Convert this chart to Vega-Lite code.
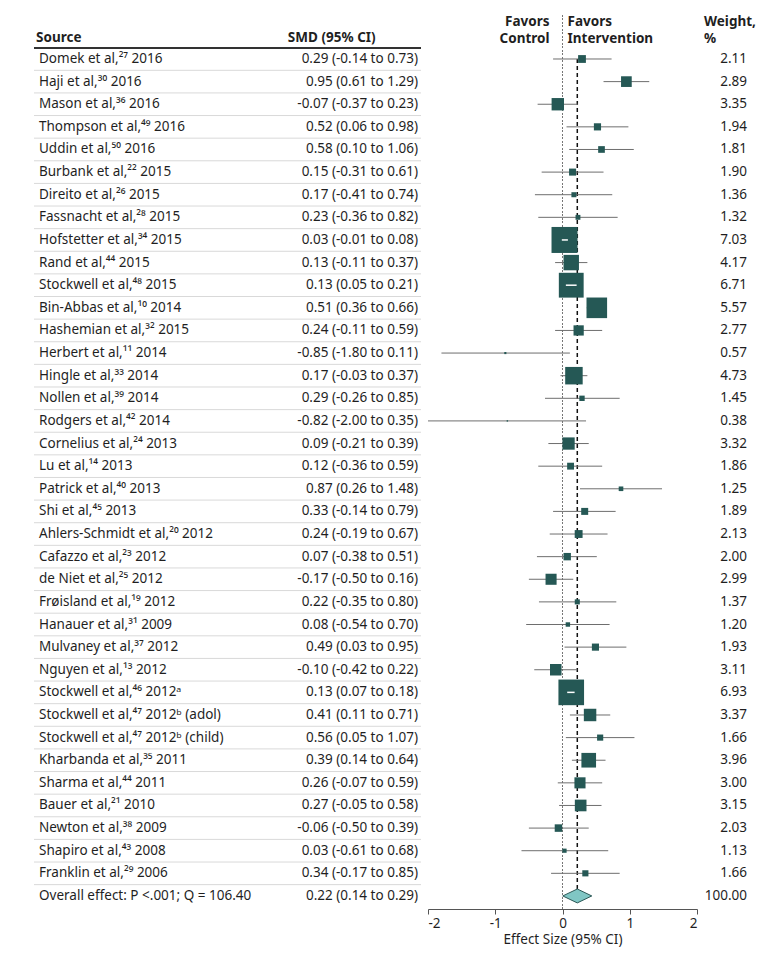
{
  "$schema": "https://vega.github.io/schema/vega-lite/v6.json",
  "padding": {"left": 33, "top": 14, "right": 0, "bottom": 6},
  "autosize": {"type": "pad"},
  "bounds": "flush",
  "spacing": 7,
  "config": {
    "view": {"stroke": null},
    "font": "Noto Sans",
    "text": {"font": "Noto Sans", "fontSize": 13.5, "color": "#1f1f1f"}
  },
  "datasets": {
    "rows": [
      {"row": 1, "kind": "study", "source": "Domek et al,²⁷ 2016", "smd": "0.29 (-0.14 to 0.73)", "est": 0.29, "lo": -0.14, "hi": 0.73, "weight": 2.11},
      {"row": 2, "kind": "study", "source": "Haji et al,³⁰ 2016", "smd": "0.95 (0.61 to 1.29)", "est": 0.95, "lo": 0.61, "hi": 1.29, "weight": 2.89},
      {"row": 3, "kind": "study", "source": "Mason et al,³⁶ 2016", "smd": "-0.07 (-0.37 to 0.23)", "est": -0.07, "lo": -0.37, "hi": 0.23, "weight": 3.35},
      {"row": 4, "kind": "study", "source": "Thompson et al,⁴⁹ 2016", "smd": "0.52 (0.06 to 0.98)", "est": 0.52, "lo": 0.06, "hi": 0.98, "weight": 1.94},
      {"row": 5, "kind": "study", "source": "Uddin et al,⁵⁰ 2016", "smd": "0.58 (0.10 to 1.06)", "est": 0.58, "lo": 0.10, "hi": 1.06, "weight": 1.81},
      {"row": 6, "kind": "study", "source": "Burbank et al,²² 2015", "smd": "0.15 (-0.31 to 0.61)", "est": 0.15, "lo": -0.31, "hi": 0.61, "weight": 1.90},
      {"row": 7, "kind": "study", "source": "Direito et al,²⁶  2015", "smd": "0.17 (-0.41 to 0.74)", "est": 0.17, "lo": -0.41, "hi": 0.74, "weight": 1.36},
      {"row": 8, "kind": "study", "source": "Fassnacht et al,²⁸ 2015", "smd": "0.23 (-0.36 to 0.82)", "est": 0.23, "lo": -0.36, "hi": 0.82, "weight": 1.32},
      {"row": 9, "kind": "study", "source": "Hofstetter et al,³⁴ 2015", "smd": "0.03 (-0.01 to 0.08)", "est": 0.03, "lo": -0.01, "hi": 0.08, "weight": 7.03},
      {"row": 10, "kind": "study", "source": "Rand et al,⁴⁴ 2015", "smd": "0.13 (-0.11 to 0.37)", "est": 0.13, "lo": -0.11, "hi": 0.37, "weight": 4.17},
      {"row": 11, "kind": "study", "source": "Stockwell et al,⁴⁸ 2015", "smd": "0.13 (0.05 to 0.21)", "est": 0.13, "lo": 0.05, "hi": 0.21, "weight": 6.71},
      {"row": 12, "kind": "study", "source": "Bin-Abbas et al,¹⁰  2014", "smd": "0.51 (0.36 to 0.66)", "est": 0.51, "lo": 0.36, "hi": 0.66, "weight": 5.57},
      {"row": 13, "kind": "study", "source": "Hashemian et al,³² 2015", "smd": "0.24 (-0.11 to 0.59)", "est": 0.24, "lo": -0.11, "hi": 0.59, "weight": 2.77},
      {"row": 14, "kind": "study", "source": "Herbert et al,¹¹ 2014", "smd": "-0.85 (-1.80 to 0.11)", "est": -0.85, "lo": -1.80, "hi": 0.11, "weight": 0.57},
      {"row": 15, "kind": "study", "source": "Hingle et al,³³ 2014", "smd": "0.17 (-0.03 to 0.37)", "est": 0.17, "lo": -0.03, "hi": 0.37, "weight": 4.73},
      {"row": 16, "kind": "study", "source": "Nollen et al,³⁹ 2014", "smd": "0.29 (-0.26 to 0.85)", "est": 0.29, "lo": -0.26, "hi": 0.85, "weight": 1.45},
      {"row": 17, "kind": "study", "source": "Rodgers et al,⁴² 2014", "smd": "-0.82 (-2.00 to 0.35)", "est": -0.82, "lo": -2.00, "hi": 0.35, "weight": 0.38},
      {"row": 18, "kind": "study", "source": "Cornelius et al,²⁴ 2013", "smd": "0.09 (-0.21 to 0.39)", "est": 0.09, "lo": -0.21, "hi": 0.39, "weight": 3.32},
      {"row": 19, "kind": "study", "source": "Lu et al,¹⁴ 2013", "smd": "0.12 (-0.36 to 0.59)", "est": 0.12, "lo": -0.36, "hi": 0.59, "weight": 1.86},
      {"row": 20, "kind": "study", "source": "Patrick et al,⁴⁰ 2013", "smd": "0.87 (0.26 to 1.48)", "est": 0.87, "lo": 0.26, "hi": 1.48, "weight": 1.25},
      {"row": 21, "kind": "study", "source": "Shi et al,⁴⁵ 2013", "smd": "0.33 (-0.14 to 0.79)", "est": 0.33, "lo": -0.14, "hi": 0.79, "weight": 1.89},
      {"row": 22, "kind": "study", "source": "Ahlers-Schmidt et al,²⁰ 2012", "smd": "0.24 (-0.19 to 0.67)", "est": 0.24, "lo": -0.19, "hi": 0.67, "weight": 2.13},
      {"row": 23, "kind": "study", "source": "Cafazzo et al,²³ 2012", "smd": "0.07 (-0.38 to 0.51)", "est": 0.07, "lo": -0.38, "hi": 0.51, "weight": 2.00},
      {"row": 24, "kind": "study", "source": "de Niet et al,²⁵ 2012", "smd": "-0.17 (-0.50 to 0.16)", "est": -0.17, "lo": -0.50, "hi": 0.16, "weight": 2.99},
      {"row": 25, "kind": "study", "source": "Frøisland et al,¹⁹ 2012", "smd": "0.22 (-0.35 to 0.80)", "est": 0.22, "lo": -0.35, "hi": 0.80, "weight": 1.37},
      {"row": 26, "kind": "study", "source": "Hanauer et al,³¹ 2009", "smd": "0.08 (-0.54 to 0.70)", "est": 0.08, "lo": -0.54, "hi": 0.70, "weight": 1.20},
      {"row": 27, "kind": "study", "source": "Mulvaney et al,³⁷ 2012", "smd": "0.49 (0.03 to 0.95)", "est": 0.49, "lo": 0.03, "hi": 0.95, "weight": 1.93},
      {"row": 28, "kind": "study", "source": "Nguyen et al,¹³ 2012", "smd": "-0.10 (-0.42 to 0.22)", "est": -0.10, "lo": -0.42, "hi": 0.22, "weight": 3.11},
      {"row": 29, "kind": "study", "source": "Stockwell et al,⁴⁶ 2012ᵃ", "smd": "0.13 (0.07 to 0.18)", "est": 0.13, "lo": 0.07, "hi": 0.18, "weight": 6.93},
      {"row": 30, "kind": "study", "source": "Stockwell et al,⁴⁷ 2012ᵇ (adol)", "smd": "0.41 (0.11 to 0.71)", "est": 0.41, "lo": 0.11, "hi": 0.71, "weight": 3.37},
      {"row": 31, "kind": "study", "source": "Stockwell et al,⁴⁷ 2012ᵇ (child)", "smd": "0.56 (0.05 to 1.07)", "est": 0.56, "lo": 0.05, "hi": 1.07, "weight": 1.66},
      {"row": 32, "kind": "study", "source": "Kharbanda et al,³⁵ 2011", "smd": "0.39 (0.14 to 0.64)", "est": 0.39, "lo": 0.14, "hi": 0.64, "weight": 3.96},
      {"row": 33, "kind": "study", "source": "Sharma et al,⁴⁴ 2011", "smd": "0.26 (-0.07 to 0.59)", "est": 0.26, "lo": -0.07, "hi": 0.59, "weight": 3.00},
      {"row": 34, "kind": "study", "source": "Bauer et al,²¹ 2010", "smd": "0.27 (-0.05 to 0.58)", "est": 0.27, "lo": -0.05, "hi": 0.58, "weight": 3.15},
      {"row": 35, "kind": "study", "source": "Newton et al,³⁸ 2009", "smd": "-0.06 (-0.50 to 0.39)", "est": -0.06, "lo": -0.50, "hi": 0.39, "weight": 2.03},
      {"row": 36, "kind": "study", "source": "Shapiro et al,⁴³ 2008", "smd": "0.03 (-0.61 to 0.68)", "est": 0.03, "lo": -0.61, "hi": 0.68, "weight": 1.13},
      {"row": 37, "kind": "study", "source": "Franklin et al,²⁹ 2006", "smd": "0.34 (-0.17 to 0.85)", "est": 0.34, "lo": -0.17, "hi": 0.85, "weight": 1.66},
      {"row": 38, "kind": "overall", "source": "Overall effect: P <.001; Q = 106.40", "smd": "0.22 (0.14 to 0.29)", "est": 0.22, "lo": 0.14, "hi": 0.29, "weight": 100.00}
    ]
  },
  "hconcat": [
    {
      "width": 387,
      "height": 894,
      "data": {"name": "rows"},
      "layer": [
        {
          "transform": [{"filter": "datum.kind == 'study'"}],
          "mark": {"type": "rule", "color": "#d9d9d9", "strokeWidth": 1, "yOffset": 11.31},
          "encoding": {
            "y": {"field": "row", "type": "quantitative", "scale": {"domain": [-0.945, 38.577], "reverse": true, "nice": false, "zero": false}, "axis": null}
          }
        },
        {
          "mark": {"type": "rule", "color": "#333333", "strokeWidth": 1.5},
          "encoding": {
            "y": {"datum": 0.5, "type": "quantitative"}
          }
        },
        {
          "transform": [{"filter": "datum.row == 1"}],
          "mark": {"type": "text", "text": "Source", "align": "left", "baseline": "middle", "fontWeight": "bold", "fontSize": 13.5, "dx": 2},
          "encoding": {
            "x": {"datum": 0, "type": "quantitative", "scale": {"domain": [0, 1], "nice": false, "zero": false}, "axis": null},
            "y": {"datum": 0.072, "type": "quantitative"}
          }
        },
        {
          "transform": [{"filter": "datum.row == 1"}],
          "mark": {"type": "text", "text": "SMD (95% CI)", "align": "left", "baseline": "middle", "fontWeight": "bold", "fontSize": 13.5},
          "encoding": {
            "x": {"datum": 0.656, "type": "quantitative"},
            "y": {"datum": 0.072, "type": "quantitative"}
          }
        },
        {
          "mark": {"type": "text", "align": "left", "baseline": "middle", "dx": 5},
          "encoding": {
            "x": {"datum": 0, "type": "quantitative"},
            "y": {"field": "row", "type": "quantitative"},
            "text": {"field": "source"}
          }
        },
        {
          "mark": {"type": "text", "align": "right", "baseline": "middle", "dx": -3},
          "encoding": {
            "x": {"datum": 1, "type": "quantitative"},
            "y": {"field": "row", "type": "quantitative"},
            "text": {"field": "smd"}
          }
        }
      ]
    },
    {
      "width": 269,
      "height": 894,
      "data": {"name": "rows"},
      "layer": [
        {
          "mark": {"type": "rule", "color": "#777777", "strokeWidth": 1, "strokeDash": [1.5, 2]},
          "encoding": {
            "x": {"datum": 0, "type": "quantitative", "scale": {"domain": [-2, 2], "nice": false, "zero": false},
              "axis": {"values": [-2, -1, 0, 1, 2], "labelExpr": "datum.value + ''", "title": "Effect Size (95% CI)", "grid": false,
                "labelFont": "Noto Sans", "labelFontSize": 13.5, "labelColor": "#1f1f1f", "labelPadding": 2,
                "titleFont": "Noto Sans", "titleFontSize": 13.5, "titleFontWeight": "normal", "titleColor": "#1f1f1f", "titlePadding": 3,
                "domainColor": "#555555", "tickColor": "#555555", "tickSize": 5}}
          }
        },
        {
          "transform": [{"filter": "datum.kind == 'overall'"}],
          "mark": {"type": "rule", "color": "#111111", "strokeWidth": 1.5, "strokeDash": [4, 3]},
          "encoding": {
            "x": {"field": "est", "type": "quantitative"},
            "y": {"datum": 1, "type": "quantitative", "scale": {"domain": [-0.945, 38.577], "reverse": true, "nice": false, "zero": false}, "axis": null},
            "y2": {"datum": 38}
          }
        },
        {
          "transform": [{"filter": "datum.kind == 'study'"}],
          "mark": {"type": "rule", "color": "#6e6e6e", "strokeWidth": 1},
          "encoding": {
            "x": {"field": "lo", "type": "quantitative"},
            "x2": {"field": "hi"},
            "y": {"field": "row", "type": "quantitative"}
          }
        },
        {
          "transform": [{"filter": "datum.kind == 'study'"}],
          "mark": {"type": "point", "shape": "square", "filled": true, "opacity": 1, "color": "#255855"},
          "encoding": {
            "x": {"field": "est", "type": "quantitative"},
            "y": {"field": "row", "type": "quantitative"},
            "size": {"field": "weight", "type": "quantitative", "scale": {"type": "pow", "exponent": 2, "domain": [0, 7.03], "range": [0, 676]}, "legend": null}
          }
        },
        {
          "transform": [{"filter": "datum.kind == 'study' && datum.weight > 6"}],
          "mark": {"type": "rule", "color": "#ffffff", "strokeWidth": 1.5},
          "encoding": {
            "x": {"field": "lo", "type": "quantitative"},
            "x2": {"field": "hi"},
            "y": {"field": "row", "type": "quantitative"}
          }
        },
        {
          "transform": [{"filter": "datum.kind == 'overall'"}],
          "mark": {"type": "point", "shape": "M-1,0L0,-0.48L1,0L0,0.48Z", "size": 841, "filled": true, "fill": "#80c6c4", "stroke": "#2c5856", "strokeWidth": 1, "opacity": 1},
          "encoding": {
            "x": {"field": "est", "type": "quantitative"},
            "y": {"field": "row", "type": "quantitative"}
          }
        },
        {
          "transform": [{"filter": "datum.row == 1"}],
          "mark": {"type": "text", "text": ["Favors", "Control"], "align": "right", "baseline": "middle", "fontWeight": "bold", "fontSize": 13.5, "lineHeight": 17, "dx": -13},
          "encoding": {
            "x": {"datum": 0, "type": "quantitative"},
            "y": {"datum": -0.64, "type": "quantitative"}
          }
        },
        {
          "transform": [{"filter": "datum.row == 1"}],
          "mark": {"type": "text", "text": ["Favors", "Intervention"], "align": "left", "baseline": "middle", "fontWeight": "bold", "fontSize": 13.5, "lineHeight": 17, "dx": 5},
          "encoding": {
            "x": {"datum": 0, "type": "quantitative"},
            "y": {"datum": -0.64, "type": "quantitative"}
          }
        }
      ]
    },
    {
      "width": 43,
      "height": 894,
      "data": {"name": "rows"},
      "layer": [
        {
          "transform": [{"filter": "datum.row == 1"}],
          "mark": {"type": "text", "text": ["Weight,", "%"], "align": "left", "baseline": "middle", "fontWeight": "bold", "fontSize": 13.5, "lineHeight": 17},
          "encoding": {
            "x": {"datum": 0, "type": "quantitative", "scale": {"domain": [0, 1], "nice": false, "zero": false}, "axis": null},
            "y": {"datum": -0.64, "type": "quantitative", "scale": {"domain": [-0.945, 38.577], "reverse": true, "nice": false, "zero": false}, "axis": null}
          }
        },
        {
          "mark": {"type": "text", "align": "right", "baseline": "middle"},
          "encoding": {
            "x": {"datum": 1, "type": "quantitative"},
            "y": {"field": "row", "type": "quantitative"},
            "text": {"field": "weight", "type": "quantitative", "format": ".2f"}
          }
        }
      ]
    }
  ]
}
